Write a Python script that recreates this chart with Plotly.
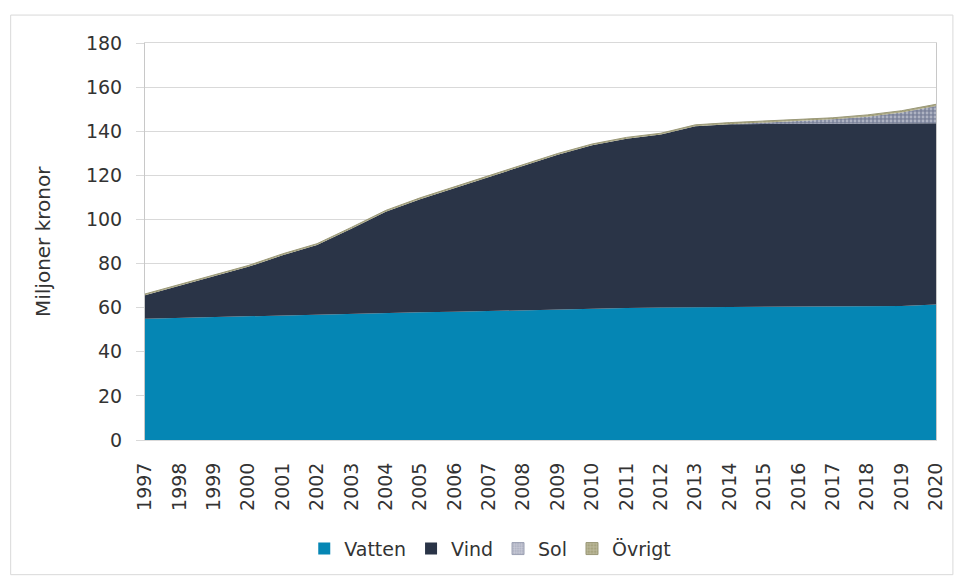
import plotly.graph_objects as go

# Annual values, miljoner kronor, stacked by source
years = list(range(1997, 2021))
vatten = [55.0, 55.4, 55.7, 55.9, 56.4, 56.9, 57.2, 57.6, 57.9, 58.1, 58.5, 58.9,
          59.3, 59.6, 59.9, 60.1, 60.2, 60.3, 60.4, 60.4, 60.5, 60.6, 60.8, 61.4]
vind = [10.6, 14.4, 18.6, 22.6, 27.4, 31.5, 38.6, 45.9, 51.3, 56.2, 60.8, 65.4,
        70.0, 74.0, 76.7, 78.4, 82.0, 82.9, 82.9, 82.9, 82.9, 82.8, 82.7, 82.2]
sol = [0, 0, 0, 0, 0, 0, 0, 0, 0, 0, 0, 0,
       0, 0, 0, 0, 0, 0.0, 0.6, 1.2, 2.0, 3.2, 5.0, 7.8]
ovrigt = [0.6, 0.6, 0.6, 0.6, 0.6, 0.6, 0.6, 0.6, 0.6, 0.6, 0.6, 0.6,
          0.6, 0.6, 0.6, 0.6, 0.7, 0.7, 0.7, 0.7, 0.7, 0.8, 0.8, 0.8]

series_names = ["Vatten", "Vind", "Sol", "Övrigt"]
y_ticks = [0, 20, 40, 60, 80, 100, 120, 140, 160, 180]

FONT = "DejaVu Sans"
TXT = "#333333"
C_VATTEN = "#0586b4"
C_VIND = "#2a3447"
SOL_PAT = dict(shape=".", bgcolor="#7c839b", fgcolor="#dfe2ea", size=4, solidity=0.4)
OVR_PAT = dict(shape="+", bgcolor="#9f9c74", fgcolor="#d9d7c3", size=4, solidity=0.35)

fig = go.Figure()

# stacked areas
fig.add_trace(go.Scatter(x=years, y=vatten, stackgroup="s", mode="lines",
                         line=dict(width=0, color=C_VATTEN), fillcolor=C_VATTEN,
                         name=series_names[0], legendgroup="v", showlegend=False))
fig.add_trace(go.Scatter(x=years, y=vind, stackgroup="s", mode="lines",
                         line=dict(width=0, color=C_VIND), fillcolor=C_VIND,
                         name=series_names[1], legendgroup="w", showlegend=False))
fig.add_trace(go.Scatter(x=years, y=sol, stackgroup="s", mode="lines",
                         line=dict(width=0, color="#7c839b"),
                         fillpattern=SOL_PAT,
                         name=series_names[2], legendgroup="s", showlegend=False))
fig.add_trace(go.Scatter(x=years, y=ovrigt, stackgroup="s", mode="lines",
                         line=dict(width=1, color="#9a9878"),
                         fillpattern=OVR_PAT,
                         name=series_names[3], legendgroup="o", showlegend=False))

# legend swatches (square icons)
fig.add_trace(go.Bar(x=[None], y=[None], name=series_names[0], legendgroup="v",
                     marker=dict(color=C_VATTEN, line=dict(width=0))))
fig.add_trace(go.Bar(x=[None], y=[None], name=series_names[1], legendgroup="w",
                     marker=dict(color=C_VIND, line=dict(width=0))))
fig.add_trace(go.Bar(x=[None], y=[None], name=series_names[2], legendgroup="s",
                     marker=dict(color="#aeb2c2", line=dict(width=1, color="#9ba0b3"),
                                 pattern=dict(shape=".", bgcolor="#a9adbf", fgcolor="#e9eaf0",
                                              size=3, solidity=0.5))))
fig.add_trace(go.Bar(x=[None], y=[None], name=series_names[3], legendgroup="o",
                     marker=dict(color="#a3a17c", line=dict(width=1, color="#9a9878"),
                                 pattern=dict(shape="+", bgcolor="#a6a37e", fgcolor="#dcdac8",
                                              size=4, solidity=0.4))))

# outer chart frame
L, R, T, B = 145, 940, 43, 441
W, H = R - L, B - T
def px_x(p):
    return (p - L) / W
def px_y(p):
    return (B - p) / H

fig.add_shape(type="rect", xref="paper", yref="paper",
              x0=px_x(10), x1=px_x(957), y0=px_y(576), y1=px_y(15),
              line=dict(color="#d9d9d9", width=1), layer="below")

fig.add_annotation(text="Miljoner kronor", xref="paper", yref="paper",
                   x=px_x(42), y=0.5, xanchor="center", yanchor="middle",
                   textangle=-90, showarrow=False,
                   font=dict(family=FONT, size=20, color=TXT))

fig.update_layout(
    width=958, height=580,
    margin=dict(l=L, r=958 - R, t=T, b=580 - B, pad=0),
    paper_bgcolor="white", plot_bgcolor="white",
    font=dict(family=FONT, color=TXT),
    showlegend=True,
    legend=dict(orientation="h", x=px_x(492), xanchor="center",
                y=px_y(550), yanchor="middle",
                font=dict(family=FONT, size=19, color=TXT),
                itemwidth=30, tracegroupgap=0, traceorder="normal",
                bgcolor="rgba(0,0,0,0)"),
    xaxis=dict(type="linear", range=[1997, 2020], tickmode="array",
               tickvals=years, ticktext=[str(y) for y in years],
               tickangle=-90, ticks="", showgrid=False, zeroline=False,
               showline=True, linecolor="#d9d9d9", mirror=True,
               ticklabelstandoff=14,
               tickfont=dict(family=FONT, size=19, color=TXT)),
    yaxis=dict(range=[0, 180], tickmode="array", tickvals=y_ticks,
               showgrid=True, gridcolor="#d9d9d9", gridwidth=1,
               zeroline=False, ticks="outside", ticklen=8, tickcolor="#d9d9d9",
               showline=True, linecolor="#c8c8c8", mirror=True,
               ticklabelstandoff=10,
               tickfont=dict(family=FONT, size=19, color=TXT)),
    bargap=0,
)

fig.write_html("out.html")
